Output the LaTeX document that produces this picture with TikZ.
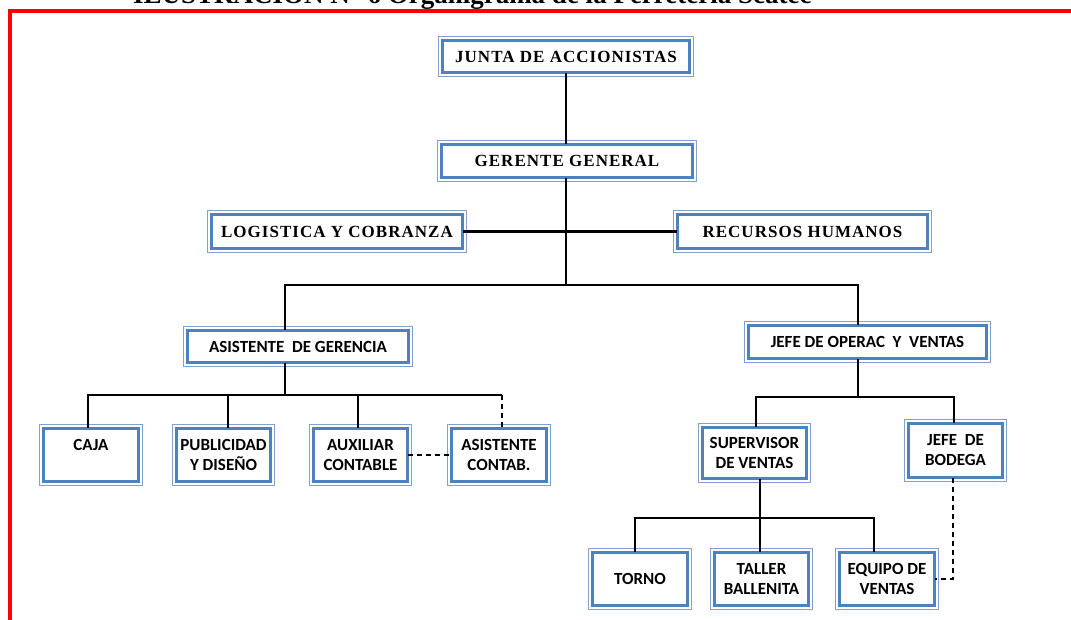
\documentclass[tikz,border=0pt]{standalone}
\usepackage{fontspec}
\newfontfamily\hdfont[LetterSpace=6]{Liberation Serif}
\newfontfamily\ttlfont{Liberation Serif}
\newfontfamily\bxfont{Carlito}
\definecolor{bdark}{HTML}{4F81BD}
\definecolor{blight}{HTML}{7FA1D2}
\definecolor{fred}{HTML}{FF0000}
\begin{document}
\begin{tikzpicture}[x=1pt,y=-1pt,
  bx/.style={draw=bdark, line width=2.8pt, fill=white, inner sep=0pt, outer sep=0pt,
     preaction={draw=blight, line width=8.8pt},
     preaction={draw=white, line width=5.8pt}},
  hd/.style={font=\hdfont\bfseries\fontsize{17}{19}\selectfont, text=black},
  lw/.style={font=\bxfont\bfseries\fontsize{17}{20}\selectfont, align=center, text=black},
  cn/.style={draw=black, line width=2.1pt},
  dcn/.style={draw=black, line width=2.1pt, dash pattern=on 5pt off 4pt}
]
\useasboundingbox (0,0) rectangle (1071,619);
\clip (0,0) rectangle (1071,619);
\fill[white] (0,0) rectangle (1071,619);
% title (cut off at top)
\node[font=\ttlfont\bfseries\fontsize{27}{30}\selectfont, anchor=base west, inner sep=0pt] (title) at (133,3.5) {ILUSTRACIÓN N° 6 Organigrama de la Ferretería Scatec};
% red frame
\draw[fred, line width=4.5pt, line join=miter] (10,630) -- (10,11) -- (1080,11);

% boxes
\node[bx, hd, minimum width=247.5, minimum height=32.5] (junta) at (566,56.5) {JUNTA DE ACCIONISTAS};
\node[bx, hd, minimum width=251.5, minimum height=33.5] (gerente) at (567,161) {GERENTE  GENERAL};
\node[bx, hd, minimum width=251.5, minimum height=34.5] (logistica) at (337,231.5) {LOGISTICA Y COBRANZA};
\node[bx, hd, minimum width=250.5, minimum height=34.5] (recursos) at (802.5,231.5) {RECURSOS HUMANOS};
\node[bx, lw, minimum width=221.5, minimum height=32.5] (asistg) at (298,346.5) {ASISTENTE\ \ DE GERENCIA};
\node[bx, lw, minimum width=238.5, minimum height=33.5] (jefeop) at (867.5,342) {JEFE DE OPERAC\ \ Y\ \ VENTAS};
\node[bx, lw, minimum width=95.5, minimum height=53.5] (caja) at (91,455) {CAJA\\ \mbox{}};
\node[bx, lw, minimum width=94.5, minimum height=53.5] (publi) at (223.5,455) {PUBLICIDAD\\Y DISEÑO};
\node[bx, lw, minimum width=94.5, minimum height=53.5] (aux) at (360.5,455) {AUXILIAR\\CONTABLE};
\node[bx, lw, minimum width=95.5, minimum height=53.5] (asc) at (499,455) {ASISTENTE\\CONTAB.};
\node[bx, lw, minimum width=104.5, minimum height=51.5] (superv) at (754.5,453) {SUPERVISOR\\DE VENTAS};
\node[bx, lw, minimum width=94.5, minimum height=54.5] (bodega) at (955.5,450.5) {JEFE\ \ DE\\BODEGA};
\node[bx, lw, minimum width=95.5, minimum height=53.5] (torno) at (640,579) {TORNO};
\node[bx, lw, minimum width=94.5, minimum height=53.5] (taller) at (761.5,579) {TALLER\\BALLENITA};
\node[bx, lw, minimum width=95.5, minimum height=53.5] (equipo) at (887,579) {EQUIPO DE\\VENTAS};

% connectors
\coordinate (h1) at (566,285);
\coordinate (h2) at (285,395);
\coordinate (h2r) at (502,395);
\coordinate (h3) at (858,397);
\coordinate (h4) at (760,518);
\draw[cn] (junta.south) -- (junta.south |- gerente.north);
\draw[cn] (gerente.south -| h1) -- (h1);
\draw[cn] (logistica.east) -- (recursos.west);
\draw[cn] (h1) -| ([xshift=-13pt]asistg.north);
\draw[cn] (h1) -| ([xshift=-9.5pt]jefeop.north);
\draw[cn] ([xshift=-13pt]asistg.south) -- (h2);
\draw[cn] (h2) -| ([xshift=-3pt]caja.north);
\draw[cn] (h2) -| ([xshift=4.5pt]publi.north);
\draw[cn] (h2) -| ([xshift=-2.5pt]aux.north);
\draw[cn] (h2) -- (h2r);
\draw[dcn] (h2r) -- (h2r |- asc.north);
\draw[dcn] (aux.east) -- (asc.west);
\draw[cn] ([xshift=-9.5pt]jefeop.south) -- (h3);
\draw[cn] (h3) -| ([xshift=1.5pt]superv.north);
\draw[cn] (h3) -| ([xshift=-1.5pt]bodega.north);
\draw[cn] ([xshift=5.5pt]superv.south) -- (h4);
\draw[cn] (h4) -| ([xshift=-5pt]torno.north);
\draw[cn] (h4) -| ([xshift=-1.5pt]taller.north);
\draw[cn] (h4) -| ([xshift=-13pt]equipo.north);
\draw[dcn] ([xshift=-2.5pt]bodega.south) |- (equipo.east);
\end{tikzpicture}
\end{document}
